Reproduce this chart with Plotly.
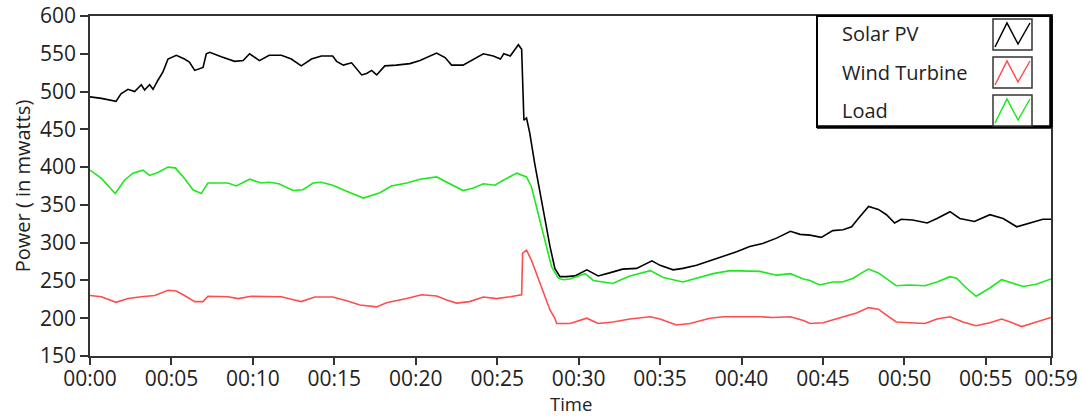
import plotly.graph_objects as go

# ---------------- data ----------------
solar_t = [0.0, 0.7, 1.6, 1.9, 2.33, 2.74, 3.15, 3.35, 3.66, 3.87, 4.17, 4.48, 4.79, 5.3, 5.8,
           6.1, 6.43, 6.94, 7.14, 7.35, 8.06, 8.88, 9.4, 9.8, 10.4, 11.0, 11.75, 12.36, 12.97,
           13.6, 14.2, 14.9, 15.14, 15.55, 16.06, 16.68, 16.98, 17.29, 17.6, 18.1, 18.8, 19.64,
           20.26, 20.77, 21.28, 21.8, 22.2, 22.9, 23.5, 24.15, 24.76, 25.2, 25.4, 25.8, 26.2,
           26.3, 26.5, 26.56, 26.6, 26.64, 26.8, 27.0, 27.3, 27.6, 27.93, 28.24, 28.54, 28.85,
           29.26, 29.77, 30.5, 31.2, 31.9, 32.7, 33.56, 34.5, 35.0, 35.8, 36.4, 37.24, 38.06,
           38.9, 39.7, 40.5, 41.3, 42.15, 43.0, 43.6, 44.2, 44.9, 45.6, 46.24, 46.76, 47.17,
           47.8, 48.4, 48.9, 49.4, 49.8, 50.5, 51.4, 52.0, 52.8, 53.4, 54.3, 55.25, 56.06,
           56.9, 57.7, 58.5, 59.0]
solar_pw = [493, 491, 487, 497, 503, 500, 509, 502, 509, 503, 515, 526, 543, 548, 543,
            539, 528, 532, 550, 552, 546, 540, 541, 550, 541, 548, 548, 543, 534,
            543, 547, 547, 540, 535, 538, 522, 524, 528, 522, 534, 535, 537,
            541, 546, 551, 545, 535, 535, 542, 550, 547, 543, 550, 547, 559,
            562, 556, 511, 506, 462, 465, 445, 405, 370, 330, 295, 266, 255,
            255, 256, 264, 256, 260, 265, 266, 276, 270, 264, 266, 270, 276,
            282, 288, 295, 299, 306, 315, 311, 310, 307, 316, 317, 321, 332,
            348, 344, 337, 326, 331, 330, 326, 332, 341, 332, 328, 337, 332,
            321, 326, 331, 331]

wind_t = [0.0, 0.7, 1.6, 2.33, 3.15, 3.97, 4.79, 5.3, 5.8, 6.43, 6.94, 7.24, 8.47, 9.1, 9.9,
          10.9, 11.75, 12.36, 12.97, 13.8, 14.9, 15.76, 16.57, 17.6, 18.2, 19.44, 20.36,
          21.28, 21.9, 22.5, 23.3, 24.15, 24.96, 25.8, 26.5, 26.56, 26.8, 27.1, 27.4, 27.83,
          28.24, 28.54, 28.65, 29.26, 29.47, 30.5, 31.2, 32.1, 33.15, 34.4, 35.0, 36.0,
          36.84, 38.06, 38.9, 40.1, 41.1, 41.9, 43.0, 43.8, 44.2, 45.0, 45.8, 46.4, 47.06,
          47.8, 48.4, 48.9, 49.5, 50.3, 51.26, 52.0, 52.8, 53.6, 54.4, 55.25, 55.97, 56.5,
          57.2, 58.1, 58.9, 59.0]
wind_pw = [230, 228.5, 221, 226, 228.5, 230, 237, 236, 230, 222, 222, 229, 228.5, 226, 229,
           228.5, 228.5, 225, 222, 228, 228, 223, 217.5, 215, 220.5, 226, 231,
           229.5, 224, 220, 222, 228, 226, 228.5, 231, 286, 290, 277, 259.5, 233,
           211, 200, 193, 193, 193, 200, 193, 195, 199, 202, 199, 191,
           193, 200, 202, 202, 202, 201, 202, 197, 193, 194, 199, 202, 207,
           214, 212, 204, 195, 194, 193, 199, 202, 195, 190, 194, 199, 195,
           189, 195, 201, 201]

load_t = [0.0, 0.7, 1.55, 2.13, 2.64, 3.25, 3.66, 4.17, 4.79, 5.24, 5.8, 6.32, 6.83, 7.24,
          7.76, 8.47, 8.98, 9.8, 10.5, 11.0, 11.6, 12.46, 13.07, 13.7, 14.2, 14.9, 15.76,
          16.78, 17.8, 18.5, 19.44, 20.26, 21.28, 22.1, 22.9, 23.5, 24.15, 24.86, 25.4, 26.2,
          26.8, 27.1, 27.4, 27.73, 28.03, 28.34, 28.75, 29.06, 29.47, 30.4, 30.9, 31.5, 32.1,
          32.7, 33.15, 34.4, 35.2, 36.4, 37.24, 38.26, 39.3, 40.3, 41.13, 42.15, 43.0, 43.8,
          44.2, 44.8, 45.6, 46.2, 46.86, 47.3, 47.8, 48.4, 48.9, 49.5, 50.3, 51.26, 52.0,
          52.8, 53.2, 53.8, 54.4, 55.25, 55.97, 56.5, 57.3, 58.1, 58.9, 59.0]
load_pw = [396, 385, 365, 383, 392, 396, 389, 393, 400, 399, 385, 370, 365, 379,
           379, 379, 375, 384, 379, 380, 378, 369, 370, 379, 380, 376, 368,
           359, 366, 375, 379, 384, 387, 378, 369, 372, 378, 376, 383, 392,
           387, 374, 348, 321, 295, 268, 253, 251, 252, 259, 250, 248, 246,
           252, 256, 263, 254, 248, 253, 259, 263, 262, 262, 257, 259, 252,
           250, 244, 248, 248, 253, 259, 265, 260, 252, 243, 244, 243, 248,
           255, 253, 240, 229, 240, 251, 247, 242, 245, 252, 252]

series_names = ["Solar PV", "Wind Turbine", "Load"]
series_colors = ["#000000", "#ff4d4d", "#1ee81e"]

x_tick_vals = [0, 5, 10, 15, 20, 25, 30, 35, 40, 45, 50, 55, 59]
x_tick_text = ["00:00", "00:05", "00:10", "00:15", "00:20", "00:25", "00:30",
               "00:35", "00:40", "00:45", "00:50", "00:55", "00:59"]
y_tick_vals = [150, 200, 250, 300, 350, 400, 450, 500, 550, 600]
x_title = "Time"
y_title = "Power ( in mwatts)"

# ---------------- layout geometry (pixels) ----------------
W, H = 1082, 418
PL, PR, PT, PB = 90, 1051, 16, 356


def fx(p):
    return (p - PL) / (PR - PL)


def fy(p):
    return (PB - p) / (PB - PT)


FONT = "Open Sans"

fig = go.Figure()
for t, v, name, col in zip([solar_t, wind_t, load_t], [solar_pw, wind_pw, load_pw],
                           series_names, series_colors):
    fig.add_trace(go.Scatter(x=t, y=v, mode="lines", name=name,
                             line=dict(color=col, width=1.6), showlegend=False))

fig.update_layout(
    width=W, height=H,
    margin=dict(l=PL, r=W - PR, t=PT, b=H - PB, pad=0),
    paper_bgcolor="white", plot_bgcolor="white",
    font=dict(family=FONT, size=20, color="#222222"),
    xaxis=dict(range=[0, 59], tickvals=x_tick_vals, ticktext=x_tick_text,
               automargin=False,
               showgrid=False, zeroline=False, showline=True, mirror=True,
               linecolor="#333333", linewidth=1.5, ticks="outside", ticklen=7,
               ticklabelstandoff=-4,
               tickcolor="#333333", tickwidth=1.5, tickfont=dict(size=21)),
    yaxis=dict(range=[150, 600], tickvals=y_tick_vals,
               automargin=False,
               showgrid=False, zeroline=False, showline=True, mirror=True,
               linecolor="#333333", linewidth=1.5, ticks="outside", ticklen=8,
               tickcolor="#333333", tickwidth=1.5, tickfont=dict(size=21),
               title=dict(text=y_title, font=dict(size=20), standoff=4)),
)

# ---------------- custom legend (text left, zig-zag swatch right) ----------------
shapes = []
annotations = []
LX0, LX1, LY0, LY1 = 817, 1051, 16, 127
shapes.append(dict(type="rect", xref="paper", yref="paper",
                   x0=fx(LX0), x1=fx(LX1), y0=fy(LY1), y1=fy(LY0),
                   line=dict(color="#000000", width=2), fillcolor="white", layer="above"))
shapes.append(dict(type="line", xref="paper", yref="paper",
                   x0=fx(LX0), x1=fx(LX1), y0=fy(LY1), y1=fy(LY1),
                   line=dict(color="#000000", width=3.5), layer="above"))
shapes.append(dict(type="line", xref="paper", yref="paper",
                   x0=fx(LX1), x1=fx(LX1), y0=fy(LY1), y1=fy(LY0),
                   line=dict(color="#000000", width=3.5), layer="above"))

row_y = [33, 72, 110]
for i, (name, col) in enumerate(zip(series_names, series_colors)):
    off = 38 * i
    shapes.append(dict(type="rect", xref="paper", yref="paper",
                       x0=fx(993), x1=fx(1032), y0=fy(50 + off), y1=fy(19 + off),
                       line=dict(color="#333333", width=1.5), fillcolor="white",
                       layer="above"))
    pts = [(995, 47 + off), (1007, 23 + off), (1018, 44 + off), (1030, 23 + off)]
    path = "M " + " L ".join(f"{fx(a):.5f},{fy(b):.5f}" for a, b in pts)
    shapes.append(dict(type="path", xref="paper", yref="paper", path=path,
                       line=dict(color=col, width=1.5), layer="above"))
    annotations.append(dict(xref="paper", yref="paper", x=fx(840), y=fy(row_y[i]),
                            xanchor="left", yanchor="middle", showarrow=False,
                            text=name, font=dict(family=FONT, size=20, color="#222222")))

# x-axis title placed below the tick labels, its box resting on the page bottom
annotations.append(dict(xref="paper", yref="paper", x=0.5, y=fy(418),
                        xanchor="center", yanchor="bottom", showarrow=False,
                        text=x_title, font=dict(family=FONT, size=18.5, color="#222222")))

fig.update_layout(shapes=shapes, annotations=annotations)

fig.write_html("out.html")
